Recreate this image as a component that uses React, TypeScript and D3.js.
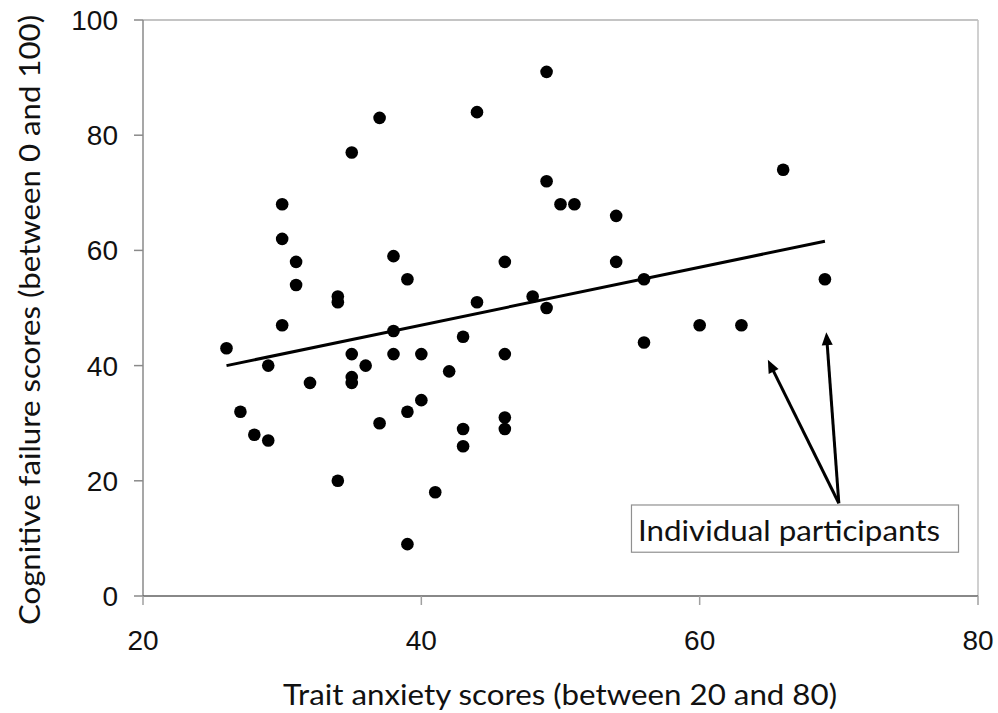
import React from "react";
import * as d3 from "d3";

const anxiety = [26, 27, 28, 29, 29, 30, 30, 30, 31, 31, 32, 34, 34, 34, 35, 35, 35, 35, 36, 37, 37, 38, 38, 38, 39, 39, 39, 40, 40, 41, 42, 43, 43, 43, 44, 44, 46, 46, 46, 46, 48, 49, 49, 49, 50, 51, 54, 54, 56, 56, 60, 63, 66, 69];
const cognitive = [43, 32, 28, 40, 27, 68, 62, 47, 58, 54, 37, 52, 51, 20, 77, 42, 38, 37, 40, 83, 30, 59, 46, 42, 55, 32, 9, 42, 34, 18, 39, 45, 29, 26, 84, 51, 58, 42, 31, 29, 52, 91, 72, 50, 68, 68, 66, 58, 55, 44, 47, 47, 74, 55];

const trendX = [26, 69];
const trendY = [40, 61.6];

const xTicks = [20, 40, 60, 80];
const yTicks = [0, 20, 40, 60, 80, 100];

const xTitle = "Trait anxiety scores (between 20 and 80)";
const yTitle = "Cognitive failure scores (between 0 and 100)";
const noteText = "Individual participants";
const noteOrigin = [70.0, 16.1];
const noteTargets = [[64.9, 41.0], [69.1, 45.8]];
const noteBox = [55.1, 78.6, 15.8, 7.6];

export default function App() {
  const W = 998, H = 713;
  const left = 143, right = 978, top = 20, bottom = 596;
  const x = d3.scaleLinear().domain([20, 80]).range([left, right]);
  const y = d3.scaleLinear().domain([0, 100]).range([bottom, top]);
  const line = d3.line<number>().x((d) => x(trendX[d])).y((d) => y(trendY[d]));
  const [ox, oy] = [x(noteOrigin[0]), y(noteOrigin[1])];

  const arrow = (tx: number, ty: number, i: number) => {
    const dx = tx - ox, dy = ty - oy;
    const len = Math.sqrt(dx * dx + dy * dy);
    const ux = dx / len, uy = dy / len;
    const hl = 13, hw = 5.5;
    const bx = tx - ux * hl, by = ty - uy * hl;
    const px = -uy, py = ux;
    return (
      <g key={i}>
        <line x1={ox} y1={oy} x2={bx + ux * 2} y2={by + uy * 2} stroke="#000" strokeWidth={3} />
        <path d={`M${tx},${ty}L${bx + px * hw},${by + py * hw}L${bx - px * hw},${by - py * hw}Z`} fill="#000" />
      </g>
    );
  };

  return (
    <svg width={W} height={H} style={{ position: "absolute", left: 0, top: 0, background: "#fff" }}>
      <rect x={0} y={0} width={W} height={H} fill="#fff" />
      {/* frame */}
      <line x1={left} y1={top} x2={right} y2={top} stroke="#b0b0b0" strokeWidth={1.5} />
      <line x1={right} y1={top} x2={right} y2={bottom} stroke="#c0c0c0" strokeWidth={1.5} />
      <line x1={left} y1={top} x2={left} y2={bottom} stroke="#8a8a8a" strokeWidth={1.5} />
      <line x1={left} y1={bottom} x2={right} y2={bottom} stroke="#606060" strokeWidth={1.5} />
      {/* y ticks */}
      {yTicks.map((t) => (
        <g key={"y" + t}>
          <line x1={left - 9} x2={left} y1={y(t)} y2={y(t)} stroke="#8a8a8a" strokeWidth={1.5} />
          <text x={118} y={y(t)} dy="0.36em" textAnchor="end" fontFamily="'Liberation Sans', Arial, sans-serif" fontSize={28} fill="#111">{t}</text>
        </g>
      ))}
      {/* x ticks */}
      {xTicks.map((t) => (
        <g key={"x" + t}>
          <line x1={x(t)} x2={x(t)} y1={bottom} y2={bottom + 9} stroke="#a0a0a0" strokeWidth={1.5} />
          <text x={x(t)} y={650} textAnchor="middle" fontFamily="'Liberation Sans', Arial, sans-serif" fontSize={28} fill="#111">{t}</text>
        </g>
      ))}
      {/* trend line */}
      <path d={line([0, 1]) || ""} stroke="#000" strokeWidth={3} fill="none" />
      {/* points */}
      {anxiety.map((a, i) => (
        <circle key={i} cx={x(a)} cy={y(cognitive[i])} r={6.3} fill="#000" />
      ))}
      {/* annotation */}
      {noteTargets.map((t, i) => arrow(x(t[0]), y(t[1]), i))}
      <rect x={x(noteBox[0])} y={y(noteBox[2])} width={x(noteBox[1]) - x(noteBox[0])} height={y(noteBox[3]) - y(noteBox[2])} fill="#fff" stroke="#909090" strokeWidth={1.2} />
      <text x={638} y={541} fontFamily="Lato, sans-serif" fontSize={29} fill="#111" textLength={302} lengthAdjust="spacingAndGlyphs">{noteText}</text>
      {/* titles */}
      <text x={560} y={705} textAnchor="middle" fontFamily="Lato, sans-serif" fontSize={28} fill="#111" textLength={554} lengthAdjust="spacingAndGlyphs">{xTitle}</text>
      <text transform="translate(40,320) rotate(-90)" textAnchor="middle" fontFamily="Lato, sans-serif" fontSize={28} fill="#111" textLength={610} lengthAdjust="spacingAndGlyphs">{yTitle}</text>
    </svg>
  );
}
